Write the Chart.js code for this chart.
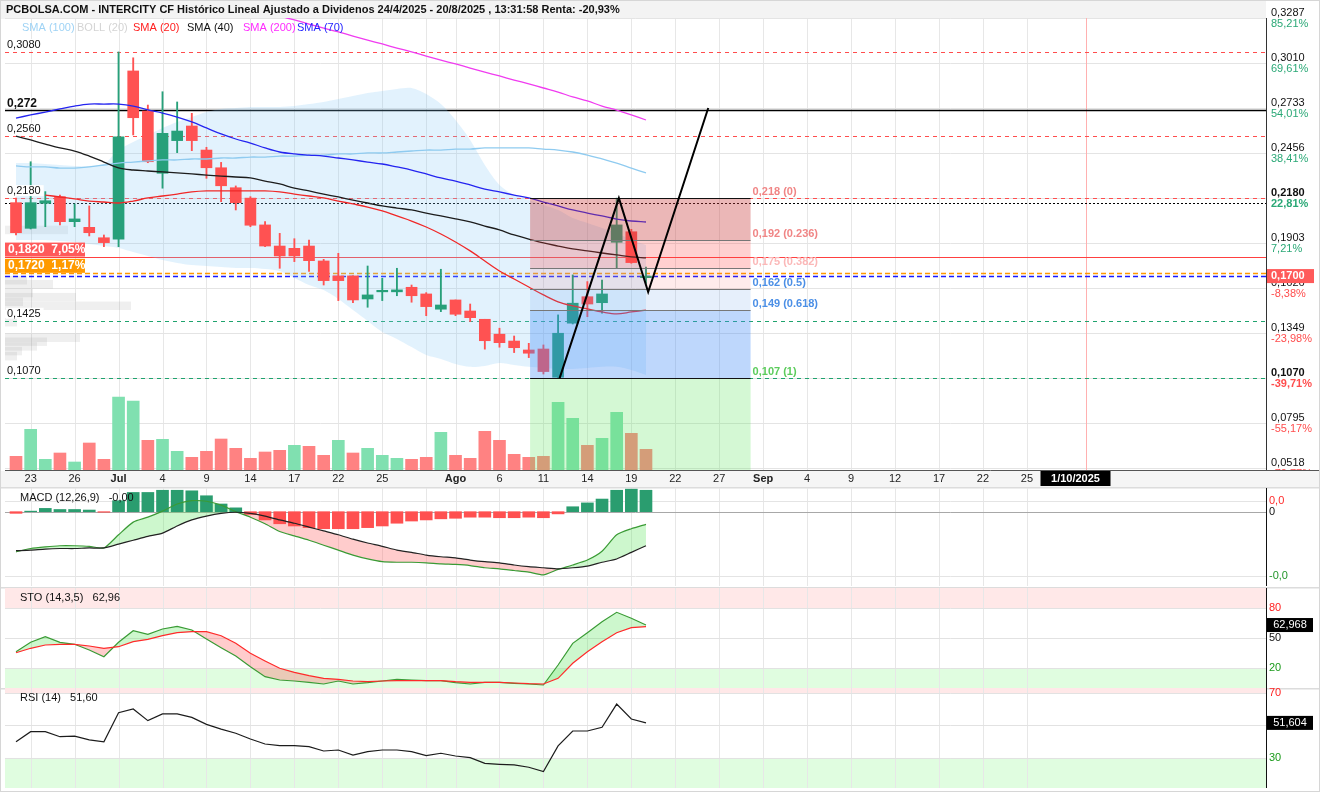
<!DOCTYPE html>
<html lang="es">
<head>
<meta charset="utf-8">
<title>INTERCITY CF</title>
<script src="https://cdn.jsdelivr.net/npm/chart.js@4.4.1/dist/chart.umd.min.js"></script>
<style>
  html, body { margin: 0; padding: 0; background: #fff; }
  #wrap { position: relative; width: 1320px; height: 792px; overflow: hidden; background: #fff; }
  .pane { position: absolute; left: 0; display: block; }
  #frame { position: absolute; left: 0; top: 0; width: 1318px; height: 790px; border: 1px solid #d6d6d6; pointer-events: none; }
</style>
</head>
<body>
<div id="wrap">
  <canvas id="c-price" class="pane" width="1320" height="487" style="top:0"></canvas>
  <canvas id="c-macd" class="pane" width="1320" height="100" style="top:487px"></canvas>
  <canvas id="c-sto" class="pane" width="1320" height="101" style="top:587px"></canvas>
  <canvas id="c-rsi" class="pane" width="1320" height="104" style="top:688px"></canvas>
  <div id="frame"></div>
</div>
<script>
const FONT = "'Liberation Sans', Arial, sans-serif";
Chart.defaults.font.family = FONT;

// ----- data: trading days 20/6/2025 .. 20/8/2025 -----
const dates = ['20/6','23/6','24/6','25/6','26/6','27/6','30/6','1/7','2/7','3/7','4/7','7/7','8/7','9/7','10/7','11/7',
  '14/7','15/7','16/7','17/7','18/7','21/7','22/7','23/7','24/7','25/7','28/7','29/7','30/7','31/7','1/8','4/8','5/8',
  '6/8','7/8','8/8','11/8','12/8','13/8','14/8','15/8','18/8','19/8','20/8'];

const open  = [0.2152,0.1994,0.2148,0.2189,0.2035,0.2000,0.1936,0.1927,0.2963,0.2716,0.2333,0.2534,0.2624,0.2476,0.2367,0.2244,0.2180,0.2015,0.1885,0.1871,0.1885,0.1793,0.1701,0.1701,0.1559,0.1603,0.1603,0.1631,0.1590,0.1496,0.1553,0.1485,0.1434,0.1342,0.1300,0.1245,0.1251,0.1077,0.1410,0.1573,0.1536,0.1908,0.1973,0.1690];
const high  = [0.2181,0.2404,0.2220,0.2199,0.2144,0.2132,0.1953,0.3080,0.3044,0.2753,0.2835,0.2772,0.2702,0.2493,0.2400,0.2255,0.2189,0.2035,0.1963,0.1930,0.1922,0.1803,0.1840,0.1701,0.1762,0.1686,0.1748,0.1645,0.1598,0.1742,0.1553,0.1528,0.1434,0.1379,0.1331,0.1286,0.1276,0.1461,0.1707,0.1666,0.1676,0.2180,0.1988,0.1755];
const low   = [0.1953,0.1990,0.2004,0.2015,0.2004,0.1947,0.1881,0.1881,0.2569,0.2398,0.2241,0.2460,0.2472,0.2302,0.2158,0.2107,0.2004,0.1881,0.1748,0.1789,0.1728,0.1645,0.1549,0.1536,0.1508,0.1549,0.1579,0.1539,0.1456,0.1481,0.1456,0.1420,0.1250,0.1262,0.1229,0.1198,0.1097,0.1070,0.1405,0.1450,0.1471,0.1748,0.1779,0.1655];
const close = [0.1967,0.2152,0.2164,0.2035,0.2052,0.1967,0.1906,0.2558,0.2675,0.2404,0.2579,0.2593,0.2534,0.2367,0.2256,0.2152,0.2013,0.1885,0.1824,0.1824,0.1795,0.1672,0.1672,0.1553,0.1584,0.1609,0.1615,0.1579,0.1512,0.1522,0.1465,0.1444,0.1302,0.1290,0.1259,0.1225,0.1112,0.1348,0.1533,0.1528,0.1590,0.2015,0.1783,0.1700];

// volume (thousands) and up/down flag vs previous close
const volume = [137,407,107,170,80,270,107,730,690,297,307,187,127,187,310,217,117,180,197,247,237,147,297,170,217,147,117,107,127,377,147,117,387,297,157,127,137,677,517,247,317,577,367,207];
const volUp  = [0,1,1,0,1,0,0,1,1,0,1,1,0,0,0,0,0,0,0,1,0,0,1,0,1,1,1,0,0,1,0,0,0,0,0,0,0,1,1,0,1,1,0,0];

const sma20  = [null,null,0.2199,0.2187,0.2175,0.2162,0.2156,0.2150,0.2162,0.2181,0.2193,0.2205,0.2218,0.2224,0.2224,0.2224,0.2224,0.2224,0.2218,0.2205,0.2193,0.2181,0.2162,0.2144,0.2125,0.2101,0.2070,0.2039,0.2002,0.1959,0.1910,0.1855,0.1793,0.1731,0.1682,0.1633,0.1584,0.1541,0.1516,0.1498,0.1479,0.1467,0.1479,0.1491];
const sma40  = [0.2562,0.2538,0.2513,0.2489,0.2470,0.2439,0.2402,0.2366,0.2353,0.2347,0.2341,0.2335,0.2329,0.2322,0.2316,0.2310,0.2304,0.2285,0.2267,0.2242,0.2224,0.2205,0.2187,0.2168,0.2150,0.2132,0.2119,0.2107,0.2088,0.2070,0.2052,0.2033,0.2008,0.1984,0.1953,0.1928,0.1904,0.1885,0.1867,0.1855,0.1842,0.1830,0.1818,0.1812];
const sma70  = [0.2673,0.2692,0.2710,0.2729,0.2747,0.2759,0.2759,0.2759,0.2747,0.2723,0.2704,0.2679,0.2649,0.2612,0.2575,0.2544,0.2519,0.2489,0.2464,0.2452,0.2445,0.2439,0.2427,0.2415,0.2402,0.2390,0.2372,0.2353,0.2329,0.2304,0.2285,0.2261,0.2236,0.2218,0.2199,0.2181,0.2156,0.2132,0.2107,0.2088,0.2070,0.2051,0.2039,0.2033];
const sma100 = [0.2378,0.2372,0.2372,0.2365,0.2365,0.2372,0.2384,0.2396,0.2402,0.2409,0.2415,0.2415,0.2421,0.2421,0.2427,0.2427,0.2433,0.2433,0.2439,0.2439,0.2445,0.2445,0.2452,0.2452,0.2458,0.2458,0.2464,0.2470,0.2476,0.2476,0.2482,0.2482,0.2489,0.2489,0.2489,0.2489,0.2482,0.2476,0.2464,0.2445,0.2421,0.2396,0.2365,0.2335];
const sma200 = [null,null,null,null,null,null,null,null,null,null,null,null,null,null,null,0.3375,0.3350,0.3326,0.3301,0.3277,0.3252,0.3227,0.3203,0.3178,0.3153,0.3129,0.3104,0.3080,0.3055,0.3030,0.3006,0.2981,0.2956,0.2932,0.2907,0.2883,0.2858,0.2833,0.2803,0.2778,0.2747,0.2722,0.2692,0.2661];
const bollUp  = [0.2396,0.2396,0.2390,0.2384,0.2378,0.2378,0.2390,0.2476,0.2526,0.2569,0.2612,0.2649,0.2679,0.2710,0.2729,0.2735,0.2741,0.2741,0.2741,0.2747,0.2759,0.2772,0.2790,0.2809,0.2827,0.2839,0.2852,0.2858,0.2821,0.2759,0.2661,0.2538,0.2384,0.2261,0.2199,0.2168,0.2138,0.2107,0.2058,0.2027,0.1996,0.1965,0.1922,0.1891];
const bollLow = [0.1922,0.1922,0.1922,0.1916,0.1910,0.1898,0.1885,0.1873,0.1848,0.1824,0.1799,0.1781,0.1768,0.1762,0.1756,0.1750,0.1750,0.1744,0.1731,0.1688,0.1645,0.1614,0.1559,0.1491,0.1424,0.1356,0.1313,0.1263,0.1214,0.1190,0.1159,0.1141,0.1147,0.1165,0.1153,0.1141,0.1134,0.1128,0.1128,0.1134,0.1141,0.1141,0.1122,0.1091];

// drawn zigzag (slot, price)
const zigX = [37.1, 41.15, 43.15, 47.25];
const zigY = [0.107, 0.218, 0.1602, 0.2735];

// fibonacci retracement
const fibLevels = [0.218, 0.192, 0.175, 0.162, 0.149, 0.107];
const fibRatios = ['0', '0.236', '0.382', '0.5', '0.618', '1'];
const fibFrom = 35.09, fibTo = 50.14;

// horizontal levels
const levelValues = [0.308, 0.272, 0.256, 0.218, 0.215, 0.182, 0.172, 0.170, 0.1425, 0.107];
const levelLabels = ['0,3080', '0,272', '0,2560', '0,2180', '', '', '', '', '0,1425', '0,1070'];
const tagPrice = [0.182, 0.172];
const tagText  = ['0,1820  7,05%', '0,1720  1,17%'];
const lastPrice = 0.170;

// price axis
const priceTicks = [0.3287, 0.3010, 0.2733, 0.2456, 0.2180, 0.1903, 0.1626, 0.1349, 0.1070, 0.0795, 0.0518];
const pctTicks   = ['85,21%', '69,61%', '54,01%', '38,41%', '22,81%', '7,21%', '-8,38%', '-23,98%', '-39,71%', '-55,17%', '-70,77%'];

// volume by price (left)
const profPrice = [0.1984, 0.1674, 0.1650, 0.1596, 0.1570, 0.1542, 0.1517, 0.1416, 0.1320, 0.1296, 0.1267, 0.1238, 0.1207];
const profVol   = [63, 22, 48, 28, 71, 18, 126, 12, 75, 42, 32, 17, 12];

// time axis (trading-day slots incl. future days)
const tickSlots = [1, 4, 7, 10, 13, 16, 19, 22, 25, 28, 30, 33, 36, 39, 42, 45, 48, 51, 54, 57, 60, 63, 66, 69];
const tickText  = ['23', '26', 'Jul', '4', '9', '14', '17', '22', '25', '', 'Ago', '6', '11', '14', '19', '22', '27', 'Sep', '4', '9', '12', '17', '22', '25'];
const cursorSlot = 73, cursorText = '1/10/2025';

// indicators
const macd   = [-0.0073,-0.0067,-0.0064,-0.0062,-0.0062,-0.0063,-0.0066,-0.0042,-0.0019,-0.0010,0.0001,0.0014,0.0020,0.0019,0.0012,0.0000,-0.0010,-0.0022,-0.0036,-0.0044,-0.0052,-0.0061,-0.0070,-0.0079,-0.0086,-0.0091,-0.0092,-0.0092,-0.0093,-0.0095,-0.0096,-0.0098,-0.0102,-0.0104,-0.0107,-0.0110,-0.0115,-0.0105,-0.0097,-0.0088,-0.0072,-0.0042,-0.0031,-0.0023];
const signal = [-0.0071,-0.0070,-0.0068,-0.0067,-0.0067,-0.0066,-0.0066,-0.0059,-0.0052,-0.0045,-0.0039,-0.0026,-0.0015,-0.0008,-0.0003,-0.0001,-0.0003,-0.0008,-0.0015,-0.0021,-0.0028,-0.0035,-0.0042,-0.0050,-0.0057,-0.0063,-0.0070,-0.0074,-0.0079,-0.0082,-0.0084,-0.0088,-0.0091,-0.0093,-0.0097,-0.0100,-0.0102,-0.0104,-0.0102,-0.0099,-0.0092,-0.0086,-0.0074,-0.0062];
const hist   = [-0.0003,0.0001,0.0006,0.0004,0.0004,0.0003,-0.0001,0.0020,0.0035,0.0035,0.0039,0.0039,0.0038,0.0029,0.0014,0.0007,-0.0005,-0.0015,-0.0022,-0.0026,-0.0029,-0.0031,-0.0031,-0.0031,-0.0029,-0.0026,-0.0021,-0.0017,-0.0015,-0.0013,-0.0012,-0.0010,-0.0010,-0.0011,-0.0011,-0.0010,-0.0011,-0.0004,0.0009,0.0016,0.0023,0.0039,0.0041,0.0039];
const stoK = [36.3,45.7,51.3,45.7,43.7,38,31.3,45.7,57.3,53.7,59,61.7,58,49,40.3,32,21.3,11.3,8,7,5.7,4,7,4,5.3,7,8.7,8,7.3,7.3,5.3,4,5.7,5.7,4.7,4,3,23,44.7,55.3,66.3,75.7,69.7,63];
const stoD = [35.3,39.7,43,43.7,43.7,42,39.7,41.3,46.3,48.7,52.3,55.3,56.3,56.3,52.3,44.7,34.7,27,19.7,15.7,12.3,9.7,8.7,7,6.3,7,7.3,7.3,7.3,7.3,6.3,5.7,5.7,5.7,5,4.3,4,9.7,24.7,36.3,46.3,55.3,60.3,61.3];
const rsi  = [40.0,46.2,46.2,43.1,43.5,41.1,40.0,57.9,60.2,53.0,57.1,57.1,55.0,50.7,47.8,45.2,41.7,38.6,37.6,37.6,37.0,34.3,34.9,31.8,33.9,34.9,34.9,33.9,31.4,32.9,31.2,30.2,26.7,26.1,25.7,24.3,21.6,37.4,46.6,46.6,48.9,63.2,54.0,51.6];
const macdTicks = [0.002, 0, -0.0117], macdTickText = ['0,0', '0', '-0,0'];
const stoTicks = [80, 50, 20], stoTickText = ['80', '50', '20'];
const rsiTicks = [70, 50, 30], rsiTickText = ['70', '', '30'];
const stoLast = 62.968, rsiLast = 51.604;

// ----- helpers -----
const X_MIN = -0.751, X_MAX = 85.32;
const GREEN = '#27a07a', RED = '#ff5252';
const pts = arr => arr.map((v, i) => ({ x: i, y: v })).filter(p => p.y !== null);
const fmt = (v, d) => v.toFixed(d).replace('.', ',');

function hline(ctx, x0, x1, y, color, width, dash) {
  ctx.save();
  ctx.strokeStyle = color; ctx.lineWidth = width || 1; ctx.setLineDash(dash || []);
  const yy = Math.round(y) + 0.5;
  ctx.beginPath(); ctx.moveTo(x0, yy); ctx.lineTo(x1, yy); ctx.stroke();
  ctx.restore();
}
function vline(ctx, x, y0, y1, color, width) {
  ctx.save();
  ctx.strokeStyle = color; ctx.lineWidth = width || 1;
  const xx = Math.round(x) + 0.5;
  ctx.beginPath(); ctx.moveTo(xx, y0); ctx.lineTo(xx, y1); ctx.stroke();
  ctx.restore();
}
function label(ctx, str, x, y, font, color, align) {
  ctx.save();
  ctx.font = font; ctx.fillStyle = color; ctx.textAlign = align || 'left'; ctx.textBaseline = 'middle';
  ctx.fillText(str, x, y);
  ctx.restore();
}
function vGrid(chart, top, bottom) {
  const x = chart.scales.x;
  tickSlots.forEach(s => vline(chart.ctx, x.getPixelForValue(s), top, bottom, '#e7e7e7'));
}
function xAxis() {
  return { type: 'linear', min: X_MIN, max: X_MAX, display: false, offset: false, bounds: 'data' };
}
function baseOptions(padding, scales, drawTime) {
  return {
    responsive: false, animation: false, events: [],
    layout: { padding },
    plugins: { legend: { display: false }, tooltip: { enabled: false }, filler: { drawTime: drawTime || 'beforeDatasetDraw' } },
    scales
  };
}
function lineSet(name, arr, color, order, width) {
  return { type: 'line', label: name, data: pts(arr), borderColor: color, borderWidth: width || 1.3,
           pointRadius: 0, tension: 0.35, fill: false, order };
}

// ----- price panel -----
const levelStyle = [
  { c: '#ff4d4d', w: 1, d: [4, 4] },
  { c: '#000000', w: 1.5, d: [] },
  { c: '#ff4d4d', w: 1, d: [4, 4] },
  { c: '#ff4d4d', w: 1, d: [4, 4] },
  { c: '#000000', w: 1, d: [2, 2] },
  { c: '#ff4040', w: 1.2, d: [] },
  { c: '#ff9900', w: 1.5, d: [5, 3] },
  { c: '#1a1aff', w: 1.5, d: [5, 3] },
  { c: '#1fa36e', w: 1, d: [4, 4] },
  { c: '#1fa36e', w: 1, d: [4, 4] }
];
const fibFill = ['rgba(200,60,60,0.37)', 'rgba(255,60,60,0.24)', 'rgba(255,60,60,0.10)',
                 'rgba(90,150,230,0.15)', 'rgba(70,140,245,0.35)', 'rgba(100,230,100,0.28)'];
const fibText = ['#f08585', '#f08585', '#fbb8b8', '#4b8fe6', '#4b8fe6', '#5ccc5c'];
const tagColor = ['#ff5a5a', '#ff9a00'];
const legendItems = [['SMA (100)', '#9fd3f5', 22], ['BOLL (20)', '#d4d4d4', 77], ['SMA (20)', '#ff2020', 133],
                     ['SMA (40)', '#111111', 187], ['SMA (200)', '#ff2cff', 243], ['SMA (70)', '#1f1fff', 297]];
const header = 'PCBOLSA.COM - INTERCITY CF Histórico Lineal Ajustado a Dividenos 24/4/2025 - 20/8/2025 , 13:31:58 Renta: -20,93%';

const pricePlugin = {
  id: 'pricePanel',
  beforeDraw(chart) {
    const { ctx, chartArea: a, scales: { x, y } } = chart;
    ctx.fillStyle = '#f3f3f3'; ctx.fillRect(1, 1, a.right - 1, a.top);
    vGrid(chart, a.top, a.bottom);
    priceTicks.forEach(v => hline(ctx, a.left, a.right, y.getPixelForValue(v), '#e4e4e4'));
    vline(ctx, x.getPixelForValue(cursorSlot), a.top, a.bottom, '#ffb0b0');
    ctx.fillStyle = 'rgba(150,150,150,0.15)';
    profPrice.forEach((p, i) => ctx.fillRect(a.left, y.getPixelForValue(p) - 4.25, profVol[i], 8.5));
    levelValues.forEach((v, i) => {
      const s = levelStyle[i];
      hline(ctx, a.left, a.right, y.getPixelForValue(v), s.c, s.w, s.d);
    });
  },
  beforeDatasetDraw(chart, args) {
    if (chart.data.datasets[args.index].label !== 'zigzag') return;
    const { ctx, chartArea: a, scales: { x, y } } = chart;
    const x0 = x.getPixelForValue(fibFrom), x1 = x.getPixelForValue(fibTo);
    const ys = fibLevels.map(v => y.getPixelForValue(v)).concat([a.bottom]);
    fibFill.forEach((c, i) => { ctx.fillStyle = c; ctx.fillRect(x0, ys[i], x1 - x0, ys[i + 1] - ys[i]); });
    fibLevels.forEach((v, i) => {
      const edge = i === 0 || i === fibLevels.length - 1;
      hline(ctx, x0, x1, ys[i], edge ? '#111' : '#777', 1);
    });
  },
  afterDatasetsDraw(chart) {
    const { ctx, chartArea: a, scales: { x, y } } = chart;
    // fibonacci labels
    const fx = x.getPixelForValue(fibTo) + 2;
    fibLevels.forEach((v, i) =>
      label(ctx, fmt(v, 3) + ' (' + fibRatios[i] + ')', fx, y.getPixelForValue(v) - 6, 'bold 11px ' + FONT, fibText[i]));
    // level labels on the left
    levelValues.forEach((v, i) => {
      const t = levelLabels[i];
      if (!t) return;
      const font = (t === '0,272' ? 'bold 12px ' : '11px ') + FONT;
      ctx.font = font;
      const w = ctx.measureText(t).width, yy = y.getPixelForValue(v);
      ctx.fillStyle = '#fff'; ctx.fillRect(a.left + 1, yy - 13, w + 4, 11);
      label(ctx, t, a.left + 2, yy - 7, font, '#111');
    });
    tagPrice.forEach((v, i) => {
      const yy = y.getPixelForValue(v);
      ctx.fillStyle = tagColor[i]; ctx.fillRect(a.left, yy - 14, 80, 14);
      label(ctx, tagText[i], a.left + 3, yy - 7, 'bold 12px ' + FONT, '#fff');
    });
    // header + legend
    label(ctx, header, 6, 10, 'bold 11px ' + FONT, '#111');
    legendItems.forEach(([t, c, lx]) => label(ctx, t, lx, 28, '11px ' + FONT, c));
    // right price axis
    vline(ctx, a.right, a.top, a.bottom, '#333');
    priceTicks.forEach((v, i) => {
      const yy = y.getPixelForValue(v);
      const bold = v === 0.2180 || v === 0.1070 ? 'bold ' : '';
      label(ctx, fmt(v, 4), a.right + 5, yy - 5, bold + '11px ' + FONT, '#111');
      label(ctx, pctTicks[i], a.right + 5, yy + 6, bold + '11px ' + FONT, pctTicks[i][0] === '-' ? '#ff4d4d' : '#2aa876');
    });
    const ly = y.getPixelForValue(lastPrice);
    ctx.fillStyle = '#ff5a5a'; ctx.fillRect(a.right + 1, ly - 7, 47, 14);
    label(ctx, fmt(lastPrice, 4), a.right + 5, ly, 'bold 11px ' + FONT, '#fff');
    // time axis strip
    ctx.fillStyle = '#f5f5f5'; ctx.fillRect(1, a.bottom + 1, 1318, chart.height - a.bottom - 1);
    hline(ctx, a.left, 1319, a.bottom, '#555', 1);
    tickSlots.forEach((s, i) => {
      const t = tickText[i];
      if (!t) return;
      const bold = isNaN(Number(t)) ? 'bold ' : '';
      label(ctx, t, x.getPixelForValue(s), a.bottom + 9, bold + '11px ' + FONT, '#222', 'center');
    });
    const cx = x.getPixelForValue(cursorSlot) - 45;
    ctx.fillStyle = '#000'; ctx.fillRect(cx, a.bottom + 1, 70, 15);
    label(ctx, cursorText, cx + 35, a.bottom + 9, 'bold 11px ' + FONT, '#fff', 'center');
  }
};

const candleColor = open.map((o, i) => close[i] >= o ? GREEN : RED);

new Chart(document.getElementById('c-price'), {
  type: 'bar',
  data: {
    datasets: [
      { type: 'line', label: 'bollUp', data: pts(bollUp), borderColor: 'transparent', borderWidth: 0, pointRadius: 0,
        backgroundColor: 'rgba(135,200,245,0.24)', fill: 1, tension: 0.3, order: 20 },
      { type: 'line', label: 'bollLow', data: pts(bollLow), borderColor: 'transparent', borderWidth: 0, pointRadius: 0,
        fill: false, tension: 0.3, order: 19 },
      { type: 'bar', label: 'volume', data: pts(volume), yAxisID: 'yVol',
        backgroundColor: volUp.map(u => u ? '#80e0b0' : '#ff8282'), barThickness: 12, grouped: false, order: 18 },
      { type: 'bar', label: 'wick', data: low.map((l, i) => ({ x: i, y: [l, high[i]] })),
        backgroundColor: candleColor, barThickness: 1.2, grouped: false, order: 15 },
      { type: 'bar', label: 'body', data: open.map((o, i) => ({ x: i, y: [o, close[i]] })),
        backgroundColor: candleColor, barThickness: 11, minBarLength: 1.5, grouped: false, order: 14 },
      lineSet('sma100', sma100, '#8fcbf0', 10),
      lineSet('sma20', sma20, '#f02828', 9),
      lineSet('sma40', sma40, '#1c1c1c', 8),
      lineSet('sma70', sma70, '#2424f0', 7),
      lineSet('sma200', sma200, '#f03cf0', 6),
      { type: 'line', label: 'zigzag', data: zigX.map((zx, i) => ({ x: zx, y: zigY[i] })), borderColor: '#000',
        borderWidth: 2, pointRadius: 0, tension: 0, fill: false, order: 1 }
    ]
  },
  options: baseOptions({ left: 5, right: 54, top: 18, bottom: 17 }, {
    x: xAxis(),
    y: { type: 'linear', min: 0.0506, max: 0.3289, display: false, bounds: 'data', beginAtZero: false },
    yVol: { type: 'linear', min: 0, max: 4520, display: false, bounds: 'data' }
  }),
  plugins: [pricePlugin]
});

// ----- indicator panels -----
function panelPlugin(cfg) {
  return {
    id: cfg.id,
    beforeDraw(chart) {
      const { ctx, chartArea: a, scales: { y } } = chart;
      ctx.fillStyle = '#dcdcdc'; ctx.fillRect(1, 0, 1318, 1.5);
      (cfg.bands || []).forEach(b => {
        const y0 = Math.max(a.top, y.getPixelForValue(b.to));
        const y1 = Math.min(a.bottom, y.getPixelForValue(b.from));
        ctx.fillStyle = b.color; ctx.fillRect(a.left, y0, a.right - a.left, y1 - y0);
      });
      vGrid(chart, a.top, a.bottom);
      cfg.ticks.forEach((v, i) => hline(ctx, a.left, a.right, y.getPixelForValue(v), cfg.gridColor[i]));
    },
    afterDatasetsDraw(chart) {
      const { ctx, chartArea: a, scales: { y } } = chart;
      label(ctx, cfg.title, 20, a.top + 10, '11px ' + FONT, '#111');
      vline(ctx, a.right, a.top, a.bottom, '#111');
      cfg.ticks.forEach((v, i) => {
        if (cfg.tickText[i]) label(ctx, cfg.tickText[i], a.right + 3, y.getPixelForValue(v), '11px ' + FONT, cfg.tickColor[i]);
      });
      if (cfg.box !== undefined) {
        const by = y.getPixelForValue(cfg.box);
        ctx.fillStyle = '#000'; ctx.fillRect(a.right + 1, by - 7, 46, 14);
        label(ctx, fmt(cfg.box, 3), a.right + 24, by, '11px ' + FONT, '#fff', 'center');
      }
    }
  };
}

const UP_FILL = 'rgba(90,230,90,0.30)', DOWN_FILL = 'rgba(255,100,100,0.33)';

new Chart(document.getElementById('c-macd'), {
  type: 'bar',
  data: {
    datasets: [
      { type: 'bar', label: 'hist', data: pts(hist), backgroundColor: hist.map(h => h >= 0 ? '#2a9d6f' : '#ff5050'),
        barThickness: 12, grouped: false, order: 3 },
      { type: 'line', label: 'macd', data: pts(macd), borderColor: '#3a9b35', borderWidth: 1.2, pointRadius: 0,
        tension: 0.2, fill: { target: 2, above: UP_FILL, below: DOWN_FILL }, order: 2 },
      { type: 'line', label: 'signal', data: pts(signal), borderColor: '#222', borderWidth: 1.2, pointRadius: 0,
        tension: 0.2, fill: false, order: 1 }
    ]
  },
  options: baseOptions({ left: 5, right: 54, top: 1, bottom: 1 }, {
    x: xAxis(),
    y: { type: 'linear', min: -0.01352, max: 0.00431, display: false, bounds: 'data', beginAtZero: false }
  }, 'beforeDatasetsDraw'),
  plugins: [panelPlugin({ id: 'macdPanel', title: 'MACD (12,26,9)   -0,00', ticks: macdTicks, tickText: macdTickText,
    gridColor: ['#e4e4e4', '#a8a8a8', '#e4e4e4'], tickColor: ['#ff2a2a', '#111', '#22962a'] })]
});

new Chart(document.getElementById('c-sto'), {
  type: 'line',
  data: {
    datasets: [
      { label: 'k', data: pts(stoK), borderColor: '#3a9b35', borderWidth: 1.2, pointRadius: 0, tension: 0,
        fill: { target: 1, above: UP_FILL, below: DOWN_FILL }, order: 2 },
      { label: 'd', data: pts(stoD), borderColor: '#ff2a2a', borderWidth: 1.2, pointRadius: 0, tension: 0,
        fill: false, order: 1 }
    ]
  },
  options: baseOptions({ left: 5, right: 54, top: 1, bottom: 0 }, {
    x: xAxis(),
    y: { type: 'linear', min: 0, max: 100, display: false, bounds: 'data' }
  }, 'beforeDatasetsDraw'),
  plugins: [panelPlugin({ id: 'stoPanel', title: 'STO (14,3,5)   62,96', ticks: stoTicks, tickText: stoTickText,
    gridColor: ['#e2e2e2', '#e2e2e2', '#e2e2e2'], tickColor: ['#ff2020', '#111', '#1a9a1a'], box: stoLast,
    bands: [{ from: 80, to: 100, color: '#ffe8e8' }, { from: 0, to: 20, color: '#e0fde0' }] })]
});

new Chart(document.getElementById('c-rsi'), {
  type: 'line',
  data: {
    datasets: [
      { label: 'rsi', data: pts(rsi), borderColor: '#1c1c1c', borderWidth: 1.2, pointRadius: 0, tension: 0, fill: false }
    ]
  },
  options: baseOptions({ left: 5, right: 54, top: 0, bottom: 4 }, {
    x: xAxis(),
    y: { type: 'linear', min: 11.5, max: 73.1, display: false, bounds: 'data' }
  }, 'beforeDatasetsDraw'),
  plugins: [panelPlugin({ id: 'rsiPanel', title: 'RSI (14)   51,60', ticks: rsiTicks, tickText: rsiTickText,
    gridColor: ['#e2e2e2', '#e2e2e2', '#e2e2e2'], tickColor: ['#ff2020', '#111', '#1a9a1a'], box: rsiLast,
    bands: [{ from: 70, to: 100, color: '#ffe8e8' }, { from: 0, to: 30, color: '#e0fde0' }] })]
});
</script>
</body>
</html>
